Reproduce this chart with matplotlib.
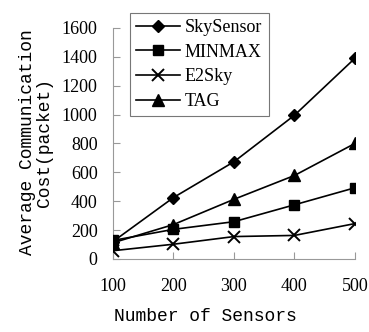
import matplotlib.pyplot as plt

# Data
sensors = [100, 200, 300, 400, 500]
skysensor = [120, 425, 673, 995, 1390]
minmax = [128, 205, 258, 375, 493]
e2sky = [57, 102, 155, 163, 245]
tag = [112, 238, 413, 578, 800]

series_names = ["SkySensor", "MINMAX", "E2Sky", "TAG"]
y_ticks = [0, 200, 400, 600, 800, 1000, 1200, 1400, 1600]

fig = plt.figure(figsize=(3.69, 3.32), dpi=100)
ax = fig.add_axes([0.306, 0.22, 0.656, 0.696])

ax.plot(sensors, skysensor, color='black', lw=1.2, marker='D', ms=6.5, label=series_names[0])
ax.plot(sensors, minmax, color='black', lw=1.2, marker='s', ms=7, label=series_names[1])
ax.plot(sensors, e2sky, color='black', lw=1.2, marker='x', ms=8, mew=1.4, label=series_names[2])
ax.plot(sensors, tag, color='black', lw=1.2, marker='^', ms=8, label=series_names[3])

ax.set_xlim(100, 500)
ax.set_ylim(0, 1600)
ax.set_xticks(sensors)
ax.set_yticks(y_ticks)

for s in ['top', 'right']:
    ax.spines[s].set_visible(False)
for s in ['left', 'bottom']:
    ax.spines[s].set_color('#999999')
    ax.spines[s].set_linewidth(0.8)
ax.spines['left'].set_zorder(0)
ax.tick_params(direction='in', color='#999999', length=5, width=0.8)
ax.tick_params(axis='y', pad=11)
ax.tick_params(axis='x', pad=14)
for lab in ax.get_xticklabels() + ax.get_yticklabels():
    lab.set_fontfamily('Liberation Serif')
    lab.set_fontsize(13)

ax.set_xlabel("Number of Sensors", fontfamily='Liberation Mono', fontsize=13)
ax.xaxis.label.set_va('center')
ax.xaxis.set_label_coords(0.38, -0.25)
ax.set_ylabel("Average Communication\nCost(packet)", fontfamily='Liberation Mono',
              fontsize=13, linespacing=1.0)
ax.yaxis.label.set_va('center')
ax.yaxis.set_label_coords(-0.318, 0.506)

leg = ax.legend(loc='upper left', bbox_to_anchor=(0.07, 1.065), frameon=True, fancybox=False,
                edgecolor='#555555', prop={'family': 'Liberation Serif', 'size': 13},
                handlelength=2.4, labelspacing=0.42, borderpad=0.35, handletextpad=0.3,
                borderaxespad=0)
leg.get_frame().set_linewidth(0.8)
leg.set_clip_on(False)

fig.savefig("out.png", dpi=100)
